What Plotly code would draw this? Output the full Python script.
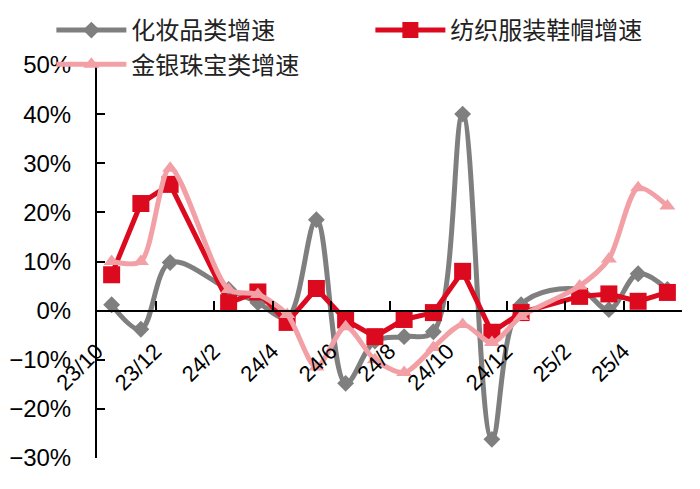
import plotly.graph_objects as go

categories = ["23/10", "23/11", "23/12", "24/1", "24/2", "24/3", "24/4", "24/5", "24/6", "24/7",
              "24/8", "24/9", "24/10", "24/11", "24/12", "25/1", "25/2", "25/3", "25/4", "25/5"]

cosmetics = [1.2, -3.8, 9.8, None, 4.3, 1.6, -1.4, 18.5, -14.8, -6.2,
             -5.3, -4.3, 40.0, -26.2, 1.2, None, 4.3, 0.2, 7.5, 4.3]
textile = [7.3, 21.8, 25.7, None, 1.6, 3.8, -2.4, 4.5, -1.9, -5.3,
           -1.8, -0.4, 8.0, -4.4, -0.4, None, 2.9, 3.4, 1.9, 3.7]
jewelry = [10.0, 10.0, 29.0, None, 4.3, 3.3, -0.8, -11.5, -3.3, -10.0,
           -12.6, -7.5, -2.8, -6.5, -1.2, None, 5.0, 10.5, 25.0, 21.3]

names = ["化妆品类增速", "纺织服装鞋帽增速", "金银珠宝类增速"]

GRAY = "#7f7f7f"
RED = "#dc0a1e"
PINK = "#f2a0a6"

FONT = "Liberation Sans, Arial, Noto Sans CJK SC, sans-serif"

fig = go.Figure()
fig.add_trace(go.Scatter(
    x=categories, y=cosmetics, name=names[0], mode="lines+markers",
    connectgaps=True, line=dict(color=GRAY, width=5, shape="spline", smoothing=1.0),
    marker=dict(symbol="diamond", size=13, color=GRAY)))
fig.add_trace(go.Scatter(
    x=categories, y=textile, name=names[1], mode="lines+markers",
    connectgaps=True, line=dict(color=RED, width=5),
    marker=dict(symbol="square", size=17, color=RED)))
fig.add_trace(go.Scatter(
    x=categories, y=jewelry, name=names[2], mode="lines+markers",
    connectgaps=True, line=dict(color=PINK, width=5, shape="spline", smoothing=0.8),
    marker=dict(symbol="triangle-up", size=14, color=PINK)))

fig.update_layout(
    width=692, height=481,
    margin=dict(l=89, r=18, t=57, b=31, autoexpand=False),
    paper_bgcolor="white", plot_bgcolor="white",
    font=dict(family=FONT, size=22, color="black"),
    legend=dict(
        orientation="h", x=-0.078, xanchor="left", y=1.145, yanchor="top",
        entrywidth=234, itemwidth=70,
        font=dict(family="Noto Sans CJK SC, sans-serif", size=24, color="#222"),
        bgcolor="rgba(0,0,0,0)", tracegroupgap=0,
    ),
    xaxis=dict(
        type="category", anchor="free", position=0.375,
        showline=True, linecolor="black", linewidth=2,
        ticks="inside", ticklen=9, tickwidth=2, tickcolor="black",
        tickson="boundaries", dtick=2, tickangle=-45,
        ticklabelstandoff=18, ticklabelshift=-15,
        tickfont=dict(size=22, family=FONT),
        showgrid=False, zeroline=False,
        range=[-0.5, 19.5],
    ),
    yaxis=dict(
        range=[-30, 50], dtick=10, ticksuffix="%",
        showline=True, linecolor="black", linewidth=2,
        ticks="inside", ticklen=8, tickwidth=2, tickcolor="black",
        ticklabelstandoff=19,
        tickfont=dict(size=24, family=FONT),
        showgrid=False, zeroline=False,
    ),
)

fig.write_html("out.html")
